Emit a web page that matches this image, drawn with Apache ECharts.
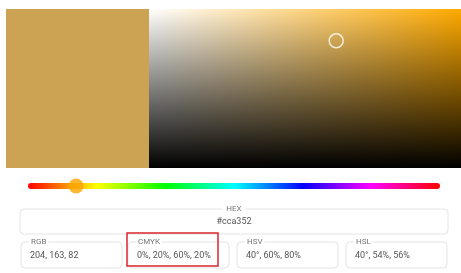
<!DOCTYPE html>
<html>
<head>
<meta charset="utf-8">
<script src="https://cdn.jsdelivr.net/npm/echarts@6/dist/echarts.min.js"></script>
<style>
  html, body { margin: 0; padding: 0; background: #fff; }
  #picker { width: 461px; height: 273px; }
</style>
</head>
<body>
<div id="picker"></div>
<script>
// current colour
var hexValue = '#cca352';
var hsvValue = [40, 60, 80];          // hue, saturation %, value %
var hueColor = '#ffaa00';             // pure hue at 40 deg

// hue strip stops
var hueStops = [0, 60, 120, 180, 240, 300, 360];
var hueColors = ['#ff0000', '#ffff00', '#00ff00', '#00ffff', '#0000ff', '#ff00ff', '#ff0000'];

// text fields
var fieldLabels = ['HEX', 'RGB', 'CMYK', 'HSV', 'HSL'];
var fieldValues = ['#cca352', '204, 163, 82', '0%, 20%, 60%, 20%', '40°, 60%, 80%', '40°, 54%, 56%'];

var chart = echarts.init(document.getElementById('picker'));

var font = 'Roboto, "Noto Sans", sans-serif';

function hueGradient() {
  var stops = [];
  for (var i = 0; i < hueStops.length; i++) {
    stops.push({ offset: hueStops[i] / 360, color: hueColors[i] });
  }
  return { type: 'linear', x: 0, y: 0, x2: 1, y2: 0, colorStops: stops };
}

// field boxes
var graphics = [];
graphics.push({
  type: 'rect', shape: { x: 20, y: 209, width: 428, height: 25, r: 4 },
  style: { fill: '#fff', stroke: '#e4e4e4', lineWidth: 1 }
});
graphics.push({
  type: 'text', x: 234, y: 209,
  style: { text: fieldLabels[0], fill: '#777', font: '8px ' + font, align: 'center', verticalAlign: 'middle',
    backgroundColor: '#fff', padding: [0, 4] }
});
graphics.push({
  type: 'text', x: 234, y: 222,
  style: { text: fieldValues[0], fill: '#555', font: '9px ' + font, align: 'center', verticalAlign: 'middle' }
});
var boxX = [21, 128, 237, 346];
for (var i = 0; i < 4; i++) {
  graphics.push({
    type: 'rect', shape: { x: boxX[i], y: 242, width: 101, height: 26, r: 4 },
    style: { fill: '#fff', stroke: '#e4e4e4', lineWidth: 1 }
  });
  graphics.push({
    type: 'text', x: boxX[i] + 8, y: 242,
    style: { text: fieldLabels[i + 1], fill: '#777', font: '8px ' + font, verticalAlign: 'middle',
      backgroundColor: '#fff', padding: [0, 2] }
  });
  graphics.push({
    type: 'text', x: boxX[i] + 9, y: 256,
    style: { text: fieldValues[i + 1], fill: '#555', font: '9px ' + font, verticalAlign: 'middle' }
  });
}
// highlight around CMYK
graphics.push({
  type: 'rect', shape: { x: 127, y: 233, width: 91, height: 33 },
  style: { fill: 'none', stroke: '#d9262c', lineWidth: 1.5 }, z: 10
});

var option = {
  backgroundColor: '#fff',
  animation: false,
  grid: [
    { left: 6, top: 9, width: 143, height: 159, show: true, borderWidth: 0, backgroundColor: hexValue },
    { left: 149, top: 9, width: 312, height: 159, show: true, borderWidth: 0,
      backgroundColor: { type: 'linear', x: 0, y: 0, x2: 1, y2: 0,
        colorStops: [{ offset: 0, color: '#ffffff' }, { offset: 1, color: hueColor }] } },
    { left: 149, top: 9, width: 312, height: 159, show: true, borderWidth: 0,
      backgroundColor: { type: 'linear', x: 0, y: 0, x2: 0, y2: 1,
        colorStops: [{ offset: 0, color: 'rgba(0,0,0,0)' }, { offset: 1, color: '#000000' }] } },
    { left: 31, top: 183, width: 406, height: 6 }
  ],
  xAxis: [
    { gridIndex: 0, type: 'value', show: false },
    { gridIndex: 1, type: 'value', min: 0, max: 100, show: false },
    { gridIndex: 2, type: 'value', min: 0, max: 100, show: false },
    { gridIndex: 3, type: 'value', min: 0, max: 360, show: false }
  ],
  yAxis: [
    { gridIndex: 0, type: 'value', show: false },
    { gridIndex: 1, type: 'value', min: 0, max: 100, show: false },
    { gridIndex: 2, type: 'value', min: 0, max: 100, show: false },
    { gridIndex: 3, type: 'value', min: -1, max: 1, show: false }
  ],
  series: [
    {
      type: 'scatter', xAxisIndex: 2, yAxisIndex: 2,
      data: [[hsvValue[1], hsvValue[2]]],
      symbol: 'circle', symbolSize: 14,
      itemStyle: { color: 'rgba(0,0,0,0)', borderColor: '#fff', borderWidth: 1.5 },
      silent: true
    },
    {
      type: 'line', xAxisIndex: 3, yAxisIndex: 3,
      data: hueStops.map(function (h) { return [h, 0]; }),
      symbol: 'none',
      lineStyle: { width: 6, cap: 'round', color: hueGradient() },
      silent: true
    },
    {
      type: 'scatter', xAxisIndex: 3, yAxisIndex: 3,
      data: [[hsvValue[0], 0]],
      symbol: 'circle', symbolSize: 15,
      itemStyle: { color: '#fca500' },
      z: 5, silent: true
    }
  ],
  graphic: graphics
};

chart.setOption(option);
</script>
</body>
</html>
